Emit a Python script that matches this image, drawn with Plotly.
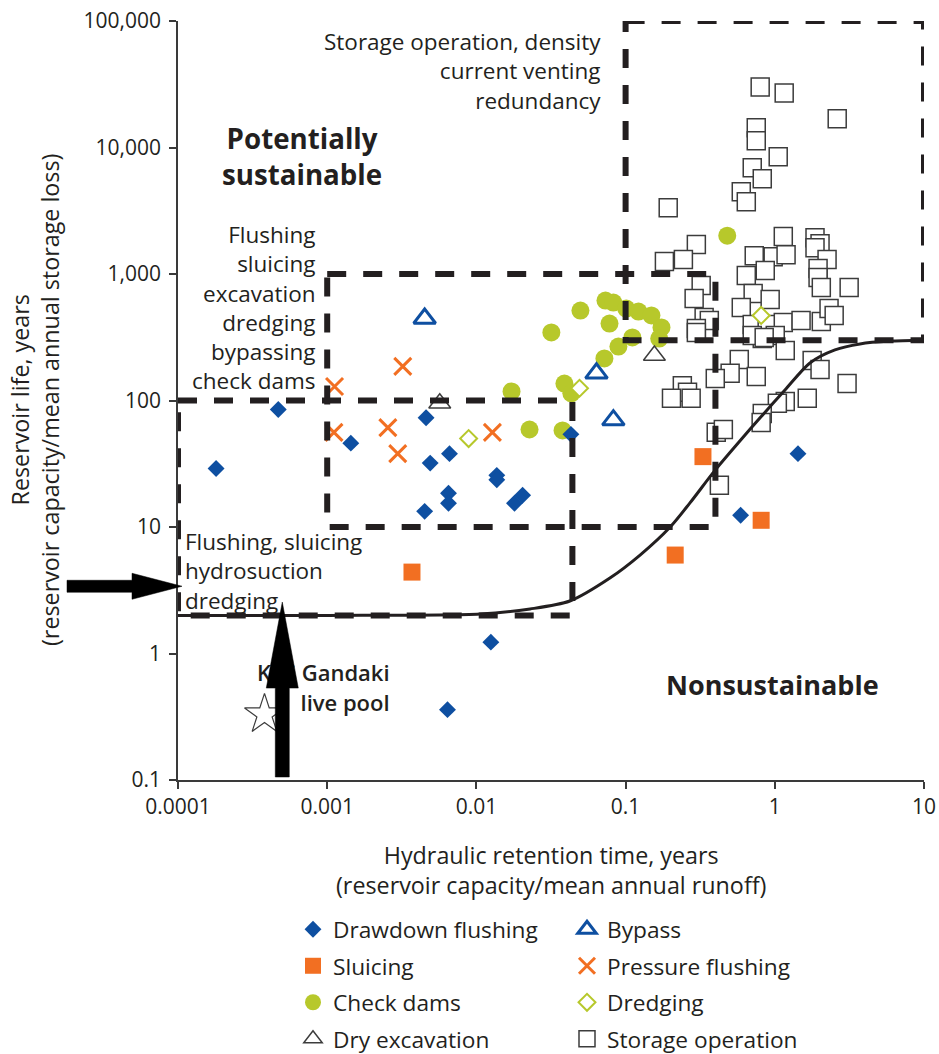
import math
import plotly.graph_objects as go

# ---------------- data ----------------
drawdown_x = [0.00018, 0.00047, 0.00144, 0.0046, 0.0049, 0.0066, 0.0065, 0.0065, 0.0045,
              0.0137, 0.0137, 0.0204, 0.018, 0.043, 0.0125, 0.0064, 0.59, 1.43]
drawdown_y = [29, 85, 46, 73, 32, 38, 18.5, 15.4, 13.3,
              25.6, 23.6, 17.8, 15.4, 54, 1.23, 0.36, 12.4, 38]

sluicing_x = [0.0037, 0.33, 0.81, 0.215]
sluicing_y = [4.4, 36, 11.3, 6.0]

checkdam_x = [0.0498, 0.0318, 0.0733, 0.0828, 0.101, 0.122, 0.149, 0.174, 0.168, 0.111,
              0.078, 0.0721, 0.0895, 0.0389, 0.0433, 0.0172, 0.0227, 0.0378, 0.48]
checkdam_y = [514, 345, 617, 595, 533, 505, 470, 378, 309, 315,
              406, 215, 267, 136, 114, 118, 59, 58, 2010]

bypass_x = [0.0045, 0.0638, 0.0828]
bypass_y = [445, 164, 70]

dryexc_x = [0.00568, 0.156]
dryexc_y = [95, 227]

pressure_x = [0.00112, 0.00321, 0.00111, 0.00255, 0.00297, 0.0128]
pressure_y = [129, 186, 56, 61, 38, 56]

dredging_x = [0.00887, 0.0491, 0.81]
dredging_y = [50, 125, 470]

storage_x = [0.798, 1.156, 2.62, 0.751, 0.751, 1.054, 0.706, 0.824, 0.596, 0.644,
             0.193, 1.14, 0.298, 0.182, 0.244, 0.728, 0.975, 1.19, 1.86, 2.01,
             1.86, 2.24, 0.863, 0.644, 1.95, 1.95, 2.05, 3.15, 0.321, 0.288,
             0.336, 0.364, 0.298, 0.716, 0.931, 0.596, 0.706, 0.889, 1.14, 1.50,
             2.05, 2.31, 2.50, 0.824, 1.007, 0.298, 0.706, 0.849, 1.175, 1.78,
             2.01, 3.05, 0.578, 0.502, 0.751, 0.399, 0.240, 0.260, 0.275, 0.203,
             1.65, 1.175, 1.04, 0.824, 0.81, 0.405, 0.452, 0.425]
storage_y = [30100, 27000, 16850, 14300, 11300, 8450, 6910, 5660, 4470, 3730,
             3340, 1975, 1707, 1253, 1300, 1397, 1371, 1422, 1938, 1738,
             1616, 1300, 1064, 971, 1103, 937, 781, 781, 810, 640,
             453, 429, 371, 700, 628, 543, 399, 399, 413, 429,
             421, 533, 470, 309, 327, 345, 327, 315, 248, 207,
             176, 136, 211, 164, 155, 149, 131, 116, 104, 104,
             104, 98, 95, 79, 67, 56, 59, 21.4]

kali_x = [0.00038]
kali_y = [0.33]

curve_x = [0.0001, 0.001, 0.0106, 0.0229, 0.0423, 0.0785, 0.125, 0.199, 0.27, 0.397,
           0.585, 0.797, 1.17, 1.72, 2.53, 3.72, 5.9, 10]
curve_y = [2.0, 2.0, 2.05, 2.25, 2.6, 3.95, 6.0, 10, 15.5, 28,
           48, 73, 121, 198, 251, 280, 295, 300]

# dashed boxes: [x0, x1, y0, y1]
box_a = [0.0001, 0.044, 2, 100]
box_b = [0.001, 0.4, 10, 1000]
box_c = [0.1, 10, 300, 100000]

x_tickvals = [0.0001, 0.001, 0.01, 0.1, 1, 10]
x_ticktext = ["0.0001", "0.001", "0.01", "0.1", "1", "10"]
y_tickvals = [0.1, 1, 10, 100, 1000, 10000, 100000]
y_ticktext = ["0.1", "1", "10", "100", "1,000", "10,000", "100,000"]

# ---------------- style ----------------
BLUE = "#0e4fa1"
ORANGE = "#f26f22"
GREEN = "#b7c82b"
INK = "#231f20"
FONT = "Open Sans"

W, H = 939, 1054
ML, MR, MT, MB = 178, 15, 21, 274
PW = W - ML - MR
PH = H - MT - MB
XR = [-4, 1]
YR = [-1, 5]


def to_px(xv, yv):
    px = ML + (math.log10(xv) - XR[0]) / (XR[1] - XR[0]) * PW
    py = MT + (YR[1] - math.log10(yv)) / (YR[1] - YR[0]) * PH
    return px, py


def paper(px, py):
    return (px - ML) / PW, (H - MB - py) / PH


def ppath(points):
    pts = [paper(px, py) for px, py in points]
    return "M " + " L ".join(f"{a:.5f},{b:.5f}" for a, b in pts) + " Z"


fig = go.Figure()


def add_markers(name, xs, ys, marker, legend=None, rank=None, show=True):
    fig.add_trace(go.Scatter(
        x=xs, y=ys, mode="markers", name=name, marker=marker,
        showlegend=show, legend=legend, legendrank=rank,
        legendgroup=name if show else None, hoverinfo="skip"))


add_markers("Storage operation", storage_x, storage_y,
            dict(symbol="square", size=18, color="white", line=dict(color="#3c3c3c", width=1.5)),
            "legend2", 4)
add_markers("Check dams", checkdam_x, checkdam_y,
            dict(symbol="circle", size=18, color=GREEN, line=dict(width=0)), "legend", 3)
add_markers("Drawdown flushing", drawdown_x, drawdown_y,
            dict(symbol="diamond", size=13, color=BLUE, line=dict(width=0)), "legend", 1)
add_markers("Sluicing", sluicing_x, sluicing_y,
            dict(symbol="square", size=17, color=ORANGE, line=dict(width=0)), "legend", 2)
add_markers("Bypass", bypass_x, bypass_y,
            dict(symbol="triangle-up", size=19, color="white", line=dict(color=BLUE, width=3)),
            "legend2", 1)
add_markers("Dry excavation", dryexc_x, dryexc_y,
            dict(symbol="triangle-up", size=19, color="white", line=dict(color="#3c3c3c", width=1.5)),
            "legend", 4)
add_markers("Pressure flushing", pressure_x, pressure_y,
            dict(symbol="x-thin-open", size=17, color=ORANGE, line=dict(color=ORANGE, width=3)),
            "legend2", 2)
add_markers("Dredging", dredging_x, dredging_y,
            dict(symbol="diamond", size=13, color="white", line=dict(color=GREEN, width=2)),
            "legend2", 3)
add_markers("Kali Gandaki", kali_x, kali_y,
            dict(symbol="star", size=30, color="white", line=dict(color="#3c3c3c", width=1.2)),
            show=False)

# dashed boxes
for b in (box_a, box_b, box_c):
    x0, x1, y0, y1 = b
    fig.add_trace(go.Scatter(
        x=[x0, x1, x1, x0, x0], y=[y1, y1, y0, y0, y1], mode="lines",
        line=dict(color=INK, width=6, dash="19px,17px"),
        showlegend=False, hoverinfo="skip"))

# sustainability curve
fig.add_trace(go.Scatter(
    x=curve_x, y=curve_y, mode="lines",
    line=dict(color=INK, width=3, shape="spline", smoothing=0.8),
    showlegend=False, hoverinfo="skip"))

# Kali Gandaki label (drawn below the arrow)
fig.add_trace(go.Scatter(
    x=[0.00262, 0.00262], y=[0.676, 0.386], mode="text",
    text=["Kali Gandaki", "live pool"], textposition="middle left",
    textfont=dict(family=FONT, size=22, color=INK, weight=600),
    showlegend=False, hoverinfo="skip"))

# ---------------- arrows (paper shapes) ----------------
tx, ty = to_px(0.0001, 3.4)
tx += 4
h_arrow = [(tx - 115, ty - 6), (tx - 50, ty - 6), (tx - 50, ty - 13), (tx, ty),
           (tx - 50, ty + 13), (tx - 50, ty + 6), (tx - 115, ty + 6)]
vx, vy = to_px(0.0005, 2.55)
_, vb = to_px(0.0005, 0.1)
vb -= 3
v_arrow = [(vx - 7, vb), (vx - 7, vy + 86), (vx - 16, vy + 86), (vx, vy),
           (vx + 16, vy + 86), (vx + 7, vy + 86), (vx + 7, vb)]
shapes = []
for pts in (h_arrow, v_arrow):
    shapes.append(dict(type="path", xref="paper", yref="paper", path=ppath(pts),
                       fillcolor="black", line=dict(color="black", width=0.5), layer="above"))


# ---------------- annotations ----------------
def ann(text, px, py, xanchor, size=22.5, bold=False, align=None, angle=0):
    x, y = paper(px, py)
    return dict(text=text, x=x, y=y, xref="paper", yref="paper", showarrow=False,
                xanchor=xanchor, yanchor="middle", align=align or xanchor,
                textangle=angle,
                font=dict(family=FONT, size=size, color=INK, weight="bold" if bold else "normal"))


annotations = [
    ann("Storage operation, density<br>current venting<br>redundancy", 603, 71, "right"),
    ann("Potentially<br>sustainable", 302, 156, "center", size=27.7, bold=True),
    ann("Flushing<br>sluicing<br>excavation<br>dredging<br>bypassing<br>check dams", 317, 307, "right"),
    ann("Flushing, sluicing<br>hydrosuction<br>dredging", 183, 571, "left"),
    ann("Nonsustainable", 772, 684, "center", size=27, bold=True),
    ann("Hydraulic retention time, years<br>(reservoir capacity/mean annual runoff)",
        551, 870, "center", size=23.3),
    ann("Reservoir life, years<br>(reservoir capacity/mean annual storage loss)",
        35, 400, "center", size=23.3, angle=-90),
]

legend_common = dict(
    orientation="v", xanchor="left", yanchor="top", traceorder="grouped",
    tracegroupgap=4, bgcolor="rgba(0,0,0,0)",
    font=dict(family=FONT, size=22.7, color=INK), itemsizing="trace")

fig.update_layout(
    width=W, height=H,
    margin=dict(l=ML, r=MR, t=MT, b=MB, pad=0, autoexpand=False),
    paper_bgcolor="white", plot_bgcolor="white",
    font=dict(family=FONT, color=INK),
    xaxis=dict(type="log", range=XR, showgrid=False, zeroline=False, automargin=False,
               showline=True, linecolor="#3a3a3a", linewidth=1.5,
               ticks="outside", ticklen=7, tickwidth=1.5, tickcolor="#3a3a3a",
               tickvals=x_tickvals, ticktext=x_ticktext,
               tickfont=dict(family=FONT, size=21, color=INK)),
    yaxis=dict(type="log", range=YR, showgrid=False, zeroline=False, automargin=False,
               showline=True, linecolor="#3a3a3a", linewidth=1.5,
               ticks="outside", ticklen=7, tickwidth=1.5, tickcolor="#3a3a3a",
               tickvals=y_tickvals, ticktext=y_ticktext, ticklabelstandoff=4,
               tickfont=dict(family=FONT, size=21, color=INK)),
    legend=dict(x=paper(293, 0)[0], y=paper(0, 908)[1], **legend_common),
    legend2=dict(x=paper(567, 0)[0], y=paper(0, 908)[1], **legend_common),
    shapes=shapes,
    annotations=annotations,
    hovermode=False,
)

fig.write_html("out.html")
